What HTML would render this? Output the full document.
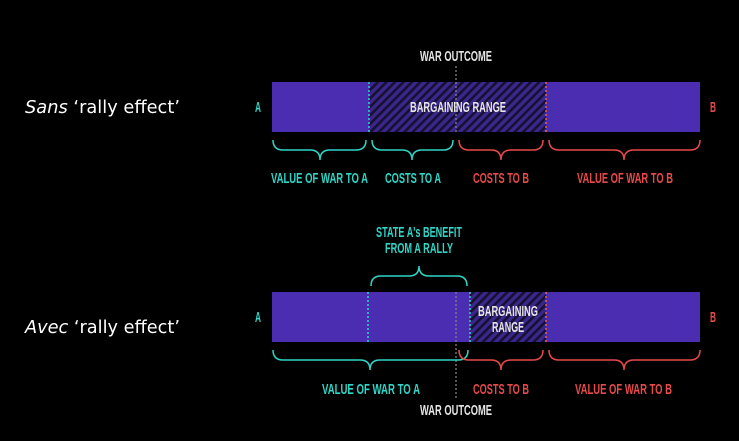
<!DOCTYPE html>
<html><head><meta charset="utf-8"><style>
html,body{margin:0;padding:0;background:#000;width:739px;height:441px;overflow:hidden}
svg{display:block}
.t{font-family:"Liberation Sans",sans-serif;font-weight:bold;font-size:14.5px}
.l{font-family:"DejaVu Sans","Liberation Sans",sans-serif;font-size:18px;fill:#fff}
</style></head><body>
<svg width="739" height="441" viewBox="0 0 739 441" xmlns="http://www.w3.org/2000/svg">
<defs>
<pattern id="h" patternUnits="userSpaceOnUse" width="6" height="6" patternTransform="rotate(45)">
<rect width="6" height="6" fill="#3b2690"/>
<rect width="2.6" height="6" fill="#16122e"/>
</pattern>
</defs>
<text class="l" x="25" y="113" textLength="155" lengthAdjust="spacingAndGlyphs"><tspan font-style="italic">Sans</tspan> ‘rally effect’</text>
<text class="l" x="25" y="333" textLength="155" lengthAdjust="spacingAndGlyphs"><tspan font-style="italic">Avec</tspan> ‘rally effect’</text>

<!-- Top bar -->
<rect x="272" y="82" width="428" height="50" fill="#4a2db0"/>
<rect x="369" y="82" width="177" height="50" fill="url(#h)"/>
<line x1="369" y1="82" x2="369" y2="132" stroke="#2fd6c8" stroke-width="1.5" stroke-dasharray="2,2"/>
<line x1="546" y1="82" x2="546" y2="132" stroke="#f0603a" stroke-width="1.5" stroke-dasharray="2,2"/>
<line x1="456" y1="66" x2="456" y2="132" stroke="#888" stroke-width="1.2" stroke-dasharray="2,2"/>
<text class="t" x="420" y="61" fill="#e6e6e6" textLength="72" lengthAdjust="spacingAndGlyphs">WAR OUTCOME</text>
<text class="t" x="410" y="112" fill="#e6e6e6" textLength="96" lengthAdjust="spacingAndGlyphs">BARGAINING RANGE</text>
<text class="t" x="258" y="112" fill="#2fd6c8" text-anchor="middle" textLength="6" lengthAdjust="spacingAndGlyphs">A</text>
<text class="t" x="713" y="112" fill="#e84a4a" text-anchor="middle" textLength="6" lengthAdjust="spacingAndGlyphs">B</text>

<g fill="none" stroke-width="1.5">
<path d="M273 140 q0 10 10 10 h27 q10 0 10 10 q0-10 10-10 h26 q10 0 10-10" stroke="#2fd6c8"/>
<path d="M372 140 q0 10 10 10 h20 q10 0 10 10 q0-10 10-10 h21 q10 0 10-10" stroke="#2fd6c8"/>
<path d="M459 140 q0 10 10 10 h22 q10 0 10 10 q0-10 10-10 h22 q10 0 10-10" stroke="#e84a4a"/>
<path d="M549 140 q0 10 10 10 h55 q10 0 10 10 q0-10 10-10 h56 q10 0 10-10" stroke="#e84a4a"/>
</g>
<text class="t" x="271" y="183" fill="#2fd6c8" textLength="97" lengthAdjust="spacingAndGlyphs">VALUE OF WAR TO A</text>
<text class="t" x="385" y="183" fill="#2fd6c8" textLength="56" lengthAdjust="spacingAndGlyphs">COSTS TO A</text>
<text class="t" x="473" y="183" fill="#e84a4a" textLength="56" lengthAdjust="spacingAndGlyphs">COSTS TO B</text>
<text class="t" x="577" y="183" fill="#e84a4a" textLength="96" lengthAdjust="spacingAndGlyphs">VALUE OF WAR TO B</text>

<!-- Bottom bar -->
<text class="t" x="376" y="237" fill="#2fd6c8" textLength="86" lengthAdjust="spacingAndGlyphs">STATE A's BENEFIT</text>
<text class="t" x="385" y="253" fill="#2fd6c8" textLength="68" lengthAdjust="spacingAndGlyphs">FROM A RALLY</text>
<path d="M371 286 q0-10 10-10 h28 q10 0 10-10 q0 10 10 10 h28 q10 0 10 10" fill="none" stroke="#2fd6c8" stroke-width="1.5"/>
<rect x="272" y="292" width="428" height="50" fill="#4a2db0"/>
<rect x="470" y="292" width="76" height="50" fill="url(#h)"/>
<line x1="368" y1="292" x2="368" y2="342" stroke="#2fd6c8" stroke-width="1.5" stroke-dasharray="2,2"/>
<line x1="470" y1="292" x2="470" y2="342" stroke="#2fd6c8" stroke-width="1.5" stroke-dasharray="2,2"/>
<line x1="546" y1="292" x2="546" y2="342" stroke="#f0603a" stroke-width="1.5" stroke-dasharray="2,2"/>
<line x1="456" y1="292" x2="456" y2="400" stroke="#888" stroke-width="1.2" stroke-dasharray="2,2"/>
<text class="t" x="478" y="316" fill="#e6e6e6" textLength="60" lengthAdjust="spacingAndGlyphs">BARGAINING</text>
<text class="t" x="492" y="332" fill="#e6e6e6" textLength="32" lengthAdjust="spacingAndGlyphs">RANGE</text>
<text class="t" x="258" y="322" fill="#2fd6c8" text-anchor="middle" textLength="6" lengthAdjust="spacingAndGlyphs">A</text>
<text class="t" x="713" y="322" fill="#e84a4a" text-anchor="middle" textLength="6" lengthAdjust="spacingAndGlyphs">B</text>
<g fill="none" stroke-width="1.5">
<path d="M273 350 q0 10 10 10 h77 q10 0 10 10 q0-10 10-10 h78 q10 0 10-10" stroke="#2fd6c8"/>
<path d="M459 350 q0 10 10 10 h22 q10 0 10 10 q0-10 10-10 h22 q10 0 10-10" stroke="#e84a4a"/>
<path d="M549 350 q0 10 10 10 h55 q10 0 10 10 q0-10 10-10 h56 q10 0 10-10" stroke="#e84a4a"/>
</g>
<text class="t" x="322" y="394" fill="#2fd6c8" textLength="98" lengthAdjust="spacingAndGlyphs">VALUE OF WAR TO A</text>
<text class="t" x="473" y="394" fill="#e84a4a" textLength="56" lengthAdjust="spacingAndGlyphs">COSTS TO B</text>
<text class="t" x="575" y="394" fill="#e84a4a" textLength="97" lengthAdjust="spacingAndGlyphs">VALUE OF WAR TO B</text>
<text class="t" x="420" y="415" fill="#e6e6e6" textLength="72" lengthAdjust="spacingAndGlyphs">WAR OUTCOME</text>
</svg>
</body></html>
